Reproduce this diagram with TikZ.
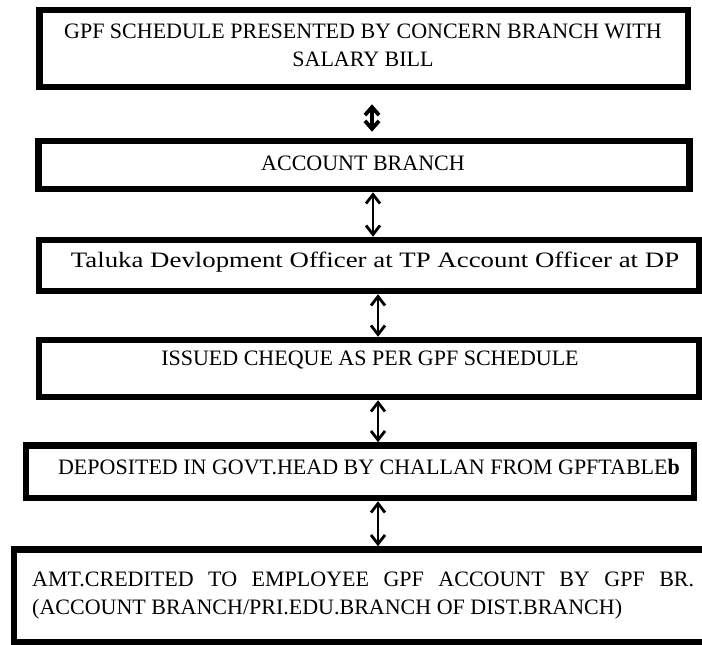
\documentclass[tikz,border=0pt]{standalone}
\usepackage{fontspec}
\setmainfont{Liberation Serif}
\usetikzlibrary{arrows.meta}
\begin{document}
\begin{tikzpicture}[x=1pt,y=-1pt,
  boxA/.style={draw=black,line width=6.5pt,inner sep=0pt},
  txt/.style={inner sep=0pt,font=\fontsize{22}{28}\selectfont},
  dbl/.style={{Straight Barb[length=9pt,width=14pt,line width=2.8pt]}-{Straight Barb[length=9pt,width=14pt,line width=2.8pt]},line width=2.4pt},
  dblthick/.style={{Straight Barb[length=8pt,width=14pt,line width=3.8pt]}-{Straight Barb[length=8pt,width=14pt,line width=3.8pt]},line width=3.8pt}]
\useasboundingbox (0,0) rectangle (702,645);
% boxes
\node[boxA,minimum width=648.5pt,minimum height=77pt] (b1) at (363.75,48.5) {};
\node[boxA,minimum width=651pt,minimum height=48pt] (b2) at (364,165) {};
\node[boxA,minimum width=660pt,minimum height=51pt] (b3) at (369,265.5) {};
\node[boxA,minimum width=660pt,minimum height=57pt] (b4) at (369,368.5) {};
\node[boxA,minimum width=668pt,minimum height=52.5pt] (b5) at (360,471.75) {};
\node[boxA,minimum width=700pt,minimum height=92.5pt] (b6) at (364,595.75) {};
% texts
\node[txt,align=center] (t1) at (363,45) {GPF SCHEDULE PRESENTED BY CONCERN BRANCH WITH\\SALARY BILL};
\node[txt] (t2) at (363,163) {ACCOUNT BRANCH};
\node[txt] (t3) at (375,262) {\scalebox{1.22}[1]{Taluka Devlopment Officer at TP Account Officer at DP}};
\node[txt] (t4) at (370,360) {ISSUED CHEQUE AS PER GPF SCHEDULE};
\node[txt] (t5) at (369,467) {DEPOSITED IN GOVT.HEAD BY CHALLAN FROM GPFTABLE\textbf{b}};
\node[txt,anchor=north west,align=left] (t6) at (32,572) {\hbox to 662pt{AMT.CREDITED\hfill TO\hfill EMPLOYEE\hfill GPF\hfill ACCOUNT\hfill BY\hfill GPF\hfill BR.}\\(ACCOUNT BRANCH/PRI.EDU.BRANCH OF DIST.BRANCH)};
% arrows
\coordinate (x1) at (372,0);
\coordinate (x2) at (373,0);
\coordinate (x3) at (378,0);
\draw[dblthick,shorten <=14pt,shorten >=6pt] (b1.south -| x1) -- (b2.north -| x1);
\draw[dbl] (b2.south -| x2) -- (b3.north -| x2);
\draw[dbl] (b3.south -| x3) -- (b4.north -| x3);
\draw[dbl] (b4.south -| x3) -- (b5.north -| x3);
\draw[dbl] (b5.south -| x3) -- (b6.north -| x3);
\end{tikzpicture}
\end{document}
